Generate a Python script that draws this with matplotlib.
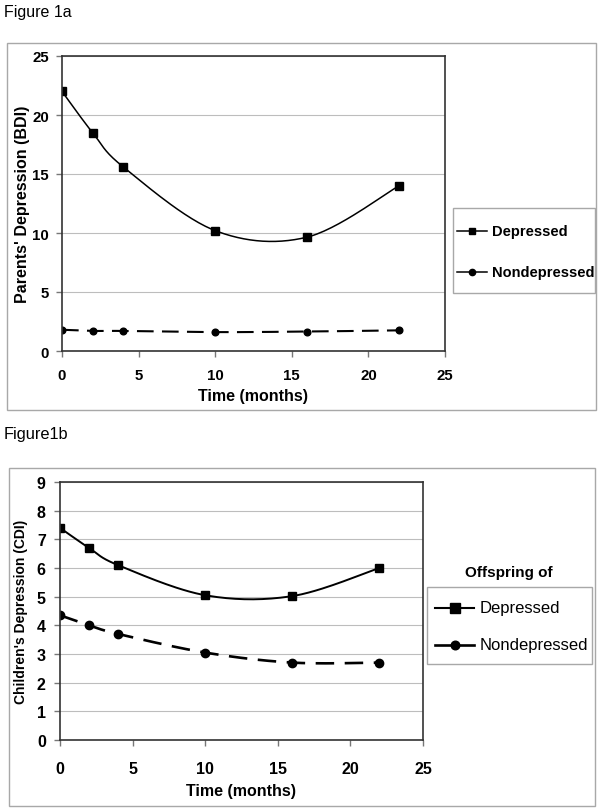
import numpy as np
import matplotlib
matplotlib.use("Agg")
import matplotlib.pyplot as plt
from matplotlib.patches import Rectangle
from matplotlib.lines import Line2D
from matplotlib.transforms import Affine2D

plt.rcParams['font.family'] = ['Liberation Sans', 'DejaVu Sans']

# ---- data ----
months = [0, 2, 4, 10, 16, 22]
parents_depressed = [22.0, 18.5, 15.6, 10.2, 9.65, 14.0]
parents_nondepressed = [1.8, 1.7, 1.7, 1.6, 1.65, 1.75]
children_depressed = [7.4, 6.7, 6.1, 5.05, 5.02, 6.0]
children_nondepressed = [4.35, 4.0, 3.7, 3.05, 2.7, 2.7]
series_labels = ["Depressed", "Nondepressed"]
x_ticks = [0, 5, 10, 15, 20, 25]

W, H = 603, 812
fig = plt.figure(figsize=(W / 100, H / 100), dpi=100)
PX = Affine2D().scale(1 / W, -1 / H).translate(0, 1) + fig.transFigure


def ax_px(l, t, r, b):
    return fig.add_axes([l / W, 1 - b / H, (r - l) / W, (b - t) / H])


def box_px(l, t, r, b, color='#a8a8a8'):
    fig.add_artist(Rectangle((l, t), r - l, b - t, transform=PX, fill=False,
                             edgecolor=color, lw=1.0))


def smooth(x, y, n=30):
    # Excel-style smoothed line (Bezier/Catmull-Rom through the data points)
    x = np.asarray(x, float); y = np.asarray(y, float)
    px = np.concatenate([[x[0]], x, [x[-1]]])
    py = np.concatenate([[y[0]], y, [y[-1]]])
    xs, ys = [], []
    for i in range(1, len(px) - 2):
        p0, p1, p2, p3 = (np.array([px[j], py[j]]) for j in (i - 1, i, i + 1, i + 2))
        c1 = p1 + (p2 - p0) / 6
        c2 = p2 - (p3 - p1) / 6
        t = np.linspace(0, 1, n)[:, None]
        pts = (1 - t) ** 3 * p1 + 3 * (1 - t) ** 2 * t * c1 + 3 * (1 - t) * t ** 2 * c2 + t ** 3 * p2
        xs.extend(pts[:, 0]); ys.extend(pts[:, 1])
    return np.array(xs), np.array(ys)


def style_axes(ax, ymax, ystep, ylabel, ylabel_size, tick_size, xpad, ypad, xlab_y, ylab_x):
    ax.set_xlim(0, 25)
    ax.set_ylim(0, ymax)
    ax.set_xticks(x_ticks)
    ax.set_yticks(np.arange(0, ymax + 0.01, ystep))
    ax.yaxis.grid(True, color='#bdbdbd', lw=0.8)
    ax.set_axisbelow(True)
    for s in ax.spines.values():
        s.set_color('#333333'); s.set_linewidth(1.2)
    ax.tick_params(direction='out', length=4, width=1, color='#777777', labelsize=tick_size)
    ax.tick_params(axis='x', pad=xpad)
    ax.tick_params(axis='y', pad=ypad)
    for lab in ax.get_xticklabels() + ax.get_yticklabels():
        lab.set_fontweight('bold')
    ax.set_xlabel("Time (months)", fontsize=11.5, fontweight='bold', va='center')
    ax.set_ylabel(ylabel, fontsize=ylabel_size, fontweight='bold', va='center')
    pos = ax.get_position()
    cx = (pos.x0 + pos.x1) / 2 * W
    cy = (1 - (pos.y0 + pos.y1) / 2) * H
    ax.xaxis.set_label_coords(cx, xlab_y, transform=PX)
    ax.yaxis.set_label_coords(ylab_x, cy, transform=PX)


def legend_px(box, x0, x1, text_x, rows, markers, ms_list, lws, font):
    box_px(*box)
    xm = (x0 + x1) / 2
    for (y, lab), mk, ms, lw in zip(zip(rows, series_labels), markers, ms_list, lws):
        fig.add_artist(Line2D([x0, x1], [y, y], transform=PX, color='black', lw=lw))
        fig.add_artist(Line2D([xm], [y], transform=PX, color='black', marker=mk,
                              ms=ms, ls='none'))
        fig.text(text_x, y, lab, transform=PX, va='center', ha='left', **font)


# ---------------- Figure 1a ----------------
fig.text(4, 13, "Figure 1a", transform=PX, fontsize=11.5, va='center', ha='left')
box_px(7, 44, 596, 411)
ax1 = ax_px(62, 57, 445, 352)
sx, sy = smooth(months, parents_depressed)
ax1.plot(sx, sy, color='black', lw=1.1)
ax1.plot(months, parents_depressed, ls='none', marker='s', ms=5.3, color='black')
sx, sy = smooth(months, parents_nondepressed)
ax1.plot(sx, sy, color='black', lw=1.5, dashes=(8, 4))
ax1.plot(months, parents_nondepressed, ls='none', marker='o', ms=4.8, color='black')
style_axes(ax1, 25, 5, "Parents' Depression (BDI)", 11.5, 10.8, xpad=8.5, ypad=5.5,
           xlab_y=397, ylab_x=23)

legend_px((453, 209, 595, 294), 457, 487, 492, [232, 273], ['s', 'o'], [5, 4.5],
          [1.1, 1.1], dict(fontsize=10.5, fontweight='bold'))

# ---------------- Figure 1b ----------------
fig.text(4, 435, "Figure1b", transform=PX, fontsize=11.8, va='center', ha='left')
box_px(9, 469, 595, 807)
ax2 = ax_px(60, 483, 423, 741)
sx, sy = smooth(months, children_depressed)
ax2.plot(sx, sy, color='black', lw=1.4)
ax2.plot(months, children_depressed, ls='none', marker='s', ms=6.0, color='black')
sx, sy = smooth(months, children_nondepressed)
ax2.plot(sx, sy, color='black', lw=1.9, dashes=(7, 4))
ax2.plot(months, children_nondepressed, ls='none', marker='o', ms=6.0, color='black')
style_axes(ax2, 9, 1, "Children's Depression (CDI)", 10, 11.5, xpad=11, ypad=6.2,
           xlab_y=792, ylab_x=21)

fig.text(509, 573, "Offspring of", transform=PX, fontsize=11, fontweight='bold',
         ha='center', va='center')
legend_px((427, 588, 592, 665), 435, 474, 480, [609, 646], ['s', 'o'], [6.5, 6.2],
          [1.5, 1.9], dict(fontsize=12))

fig.savefig("out.png", dpi=100)
